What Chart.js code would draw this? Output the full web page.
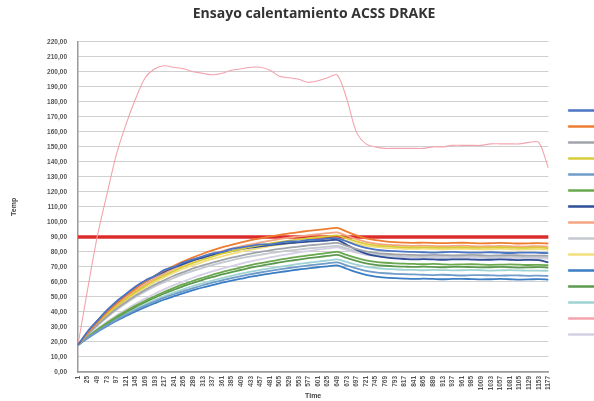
<!DOCTYPE html>
<html><head><meta charset="utf-8">
<script src="https://cdn.jsdelivr.net/npm/chart.js@4/dist/chart.umd.min.js"></script>
<style>
html,body{margin:0;padding:0;background:#fff;overflow:hidden;width:594px;height:401px;}
#wrap{position:relative;width:628px;height:401px;}
</style></head>
<body><div id="wrap"><canvas id="c" width="628" height="401"></canvas></div>
<script>
const title = "Ensayo calentamiento ACSS DRAKE";
const yTitle = "Temp";
const xTitle = "Time";
const timeLabels = [1,25,49,73,97,121,145,169,193,217,241,265,289,313,337,361,385,409,433,457,481,505,529,553,577,601,625,649,673,697,721,745,769,793,817,841,865,889,913,937,961,985,1009,1033,1057,1081,1105,1129,1153,1177];
const seriesNames = ["Serie1","Serie2","Serie3","Serie4","Serie5","Serie6","Serie7","Serie8","Serie9","Serie10","Serie11","Serie12","Serie13","Serie14","Serie15"];
const seriesColors = ["#4a74c4","#ed7d31","#a0a4aa","#d8cc3a","#6f9cc8","#6aa84f","#2f4f98","#f4a582","#c4c8cf","#f2df7a","#3a7dc4","#5c9a50","#9fd3d3","#f3a3ad","#d4d0e4"];
const limitValue = [90,90,90,90,90,90,90,90,90,90,90,90,90,90,90,90,90,90,90,90,90,90,90,90,90,90,90,90,90,90,90,90,90,90,90,90,90,90,90,90,90,90,90,90,90,90,90,90,90,90];

const s1 = [18,27,34,41,47,52,57,61,64,68,70,73,75,77,79,80,82,83,84,85,85,86,87,87,88,88,89,89,87,84.5,82.7,81.6,80.9,80.5,80.2,80,79.8,79.6,79.8,80,79.7,79.5,79.6,79.8,79.5,79.3,79.5,79.6,79.4,79.2];
const s2 = [18,25.9,33.1,39.7,45.6,50.9,55.7,60.1,64.1,67.6,70.8,73.8,76.4,78.8,81,83,84.7,86.3,87.8,89.1,90.3,91.4,92.3,93.2,94,94.7,95.4,96,93.5,91,89,87.8,87,86.5,86.2,86,86.2,86,85.8,86,86.1,85.9,85.7,85.8,86,85.8,85.6,85.7,85.9,85.6];
const s3 = [18,24.9,31.2,36.9,42.1,46.6,50.9,54.7,58.2,61.2,64.1,66.6,69,71,72.9,74.6,76.2,77.6,78.9,80,81.1,82,82.8,83.6,84.3,84.9,85.5,86,84,82,80.4,79.4,78.8,78.4,78.2,78,77.8,78,77.9,77.7,77.8,78,77.8,77.6,77.7,77.9,77.7,77.5,77.6,77.4];
const s4 = [18,25.4,32.2,38.3,43.8,48.7,53.3,57.3,61.1,64.4,67.4,70.2,72.7,74.9,76.9,78.8,80.4,81.9,83.3,84.5,85.6,86.7,87.5,88.4,89.1,89.8,90.4,91,89,87,85.4,84.4,83.8,83.4,83.2,83,83.2,83,82.8,83,83.1,82.9,82.8,83,83.1,82.9,82.7,82.8,83,82.6];
const s5 = [18,22.7,27,31,34.7,38.1,41.3,44.2,46.9,49.5,51.8,53.9,55.9,57.8,59.5,61.1,62.5,63.9,65.2,66.3,67.4,68.4,69.3,70.2,71,71.7,72.4,73,71,69,67.4,66.4,65.8,65.4,65.2,65,64.8,64.6,64.8,64.5,64.3,64.5,64.6,64.4,64.2,64.4,64.3,64.1,64.2,64];
const s6 = [18,23.2,28.1,32.6,36.8,40.6,44.2,47.5,50.5,53.5,56.1,58.5,60.8,62.8,64.7,66.6,68.2,69.7,71.2,72.5,73.7,74.8,75.9,76.8,77.7,78.5,79.3,80,78,76,74.4,73.4,72.8,72.4,72.2,72,71.8,72,71.7,71.5,71.7,71.8,71.6,71.4,71.5,71.7,71.5,71.3,71.4,71.2];
const s7 = [18,26.5,34,40.7,46.5,51.7,56.2,60.2,63.8,66.9,69.6,72.1,74.3,76.1,77.8,79.3,80.6,81.8,82.8,83.7,84.5,85.2,85.8,86.3,86.8,87.2,87.6,88,84.8,81.5,78.9,77.3,76.3,75.7,75.3,75,75.2,75,74.8,75,75.1,74.9,74.7,74.8,75,74.8,74.6,74.7,74.5,73];
const s8 = [18,25.6,32.6,38.8,44.5,49.6,54.3,58.4,62.3,65.7,68.8,71.6,74.2,76.5,78.5,80.5,82.2,83.7,85.1,86.3,87.5,88.6,89.5,90.4,91.1,91.8,92.5,93,90.8,88.5,86.7,85.6,84.9,84.5,84.2,84,84.2,84,83.8,84,84.1,83.9,83.7,83.8,84,83.8,83.6,83.7,83.9,83.5];
const s9 = [18,24.7,30.8,36.3,41.3,45.8,49.9,53.6,57,59.9,62.7,65.2,67.4,69.4,71.2,72.9,74.4,75.8,77,78.1,79.2,80.1,80.9,81.6,82.3,82.9,83.5,84,82.3,80.5,79.1,78.3,77.7,77.4,77.1,77,76.8,77,76.9,76.7,76.8,77,76.8,76.6,76.7,76.9,76.7,76.5,76.6,76.4];
const s10 = [18,25.2,31.8,37.7,43.1,47.9,52.3,56.3,59.9,63.1,66.1,68.8,71.2,73.3,75.3,77.1,78.7,80.2,81.5,82.7,83.8,84.8,85.7,86.5,87.2,87.9,88.5,89,87.3,85.5,84.1,83.3,82.7,82.4,82.1,82,82.2,82,81.8,82,82.1,81.9,81.7,81.8,82,81.8,81.6,81.7,81.9,81.5];
const s11 = [18,22.5,26.7,30.5,34.1,37.3,40.4,43.2,45.8,48.3,50.5,52.6,54.5,56.3,57.9,59.5,60.9,62.2,63.5,64.5,65.6,66.5,67.4,68.3,69,69.8,70.4,71,68.8,66.5,64.7,63.6,62.9,62.5,62.2,62,62.2,62,61.8,62,62.1,61.9,61.7,61.8,62,61.8,61.6,61.7,61.9,61.5];
const s12 = [18,23.1,27.8,32.1,36.2,39.9,43.4,46.5,49.5,52.3,54.8,57.2,59.4,61.4,63.2,65,66.6,68,69.5,70.7,71.9,73,74,74.9,75.8,76.6,77.3,78,76,74,72.4,71.4,70.8,70.4,70.2,70,70.2,70,69.8,70,70.1,69.9,69.7,69.8,70,69.8,69.6,69.7,69.9,69.5];
const s13 = [18,22.8,27.3,31.4,35.3,38.8,42.1,45.1,47.9,50.6,53,55.2,57.3,59.1,60.9,62.6,64.1,65.5,66.8,68,69.1,70.1,71.1,72,72.8,73.6,74.3,75,73.3,71.5,70.1,69.3,68.7,68.4,68.1,68,67.8,68,67.9,67.7,67.8,68,67.8,67.6,67.7,67.9,67.7,67.5,67.6,67.4];
const s14 = [18,55,90,118,145,165,182,196,202,204,203,202,200,199,198,199,201,202,203,203,201,197,196,195,193,194,196,198,182,160,152,150,149,149,149,149,149,150,150,151,151,151,151,152,152,152,152,153,153,136];
const s15 = [18,23.5,28.6,33.3,37.7,41.7,45.5,48.9,52.1,55.2,57.9,60.4,62.8,65,67,68.9,70.6,72.2,73.7,75.1,76.3,77.5,78.6,79.7,80.6,81.5,82.3,83,81.3,79.5,78.1,77.3,76.7,76.4,76.1,76,75.8,76,75.9,75.7,75.8,76,75.8,75.6,75.7,75.9,75.7,75.5,75.6,75.4];
const seriesValues = [s1,s2,s3,s4,s5,s6,s7,s8,s9,s10,s11,s12,s13,s14,s15];
const yTicks = {min:0, max:220, step:10};

const datasets = seriesNames.map((n,i)=>({
  label:n, data:seriesValues[i], borderColor:seriesColors[i], backgroundColor:seriesColors[i],
  borderWidth: i===13 ? 1.1 : 1.8, pointRadius:0, tension:0.3, fill:false
}));
datasets.push({label:"Límite", data:limitValue, borderColor:"#dc2b2b", backgroundColor:"#dc2b2b",
  borderWidth:3.5, pointRadius:0, tension:0, fill:false});

const tickFont = {family:"'Liberation Sans', Arial, sans-serif", size:6.5, weight:'bold'};
new Chart(document.getElementById('c'), {
  type:'line',
  data:{labels:timeLabels, datasets},
  options:{
    responsive:false, animation:false,
    layout:{padding:{left:0,right:0,top:0,bottom:0}},
    plugins:{
      title:{display:true, text:title, color:'#333', font:{family:"'Open Sans', sans-serif", size:14, weight:'bold'}, padding:{top:6,bottom:19}},
      legend:{position:'right', align:'center',
        title:{display:true, text:' ', font:{size:6}, padding:{top:0,bottom:36.8}},
        labels:{boxWidth:26, boxHeight:2, padding:10, color:'#888', font:{size:6},
          generateLabels:(chart)=>Chart.defaults.plugins.legend.labels.generateLabels(chart)
            .filter(l=>l.datasetIndex<15).map(l=>Object.assign(l,{lineWidth:0.5}))}},
      tooltip:{enabled:false}
    },
    scales:{
      x:{
        grid:{display:false, drawTicks:false},
        border:{display:true, color:'#9a9a9a', width:1.5},
        ticks:{autoSkip:false, maxRotation:90, minRotation:90, color:'#555', font:tickFont, padding:4},
        title:{display:true, text:xTitle, color:'#444', font:{family:"'Liberation Sans', Arial, sans-serif", size:7, weight:'bold'}, padding:{top:0,bottom:1}},
        afterFit:(s)=>{s.height=29;}
      },
      y:{
        min:yTicks.min, max:yTicks.max,
        grid:{color:'#d0d0d0', lineWidth:1, drawTicks:false},
        border:{display:true, color:'#9a9a9a', width:1.5},
        ticks:{stepSize:yTicks.step, color:'#555', font:tickFont, padding:11,
          callback:(v)=>v.toFixed(2).replace('.',',')},
        title:{display:true, text:yTitle, color:'#444', font:{family:"'Liberation Sans', Arial, sans-serif", size:7, weight:'bold'}, padding:{top:10,bottom:0}},
        afterFit:(s)=>{s.width=78;}
      },
      gap:{
        type:'linear', position:'right', display:true,
        grid:{display:false, drawTicks:false}, border:{display:false},
        ticks:{display:false},
        afterFit:(s)=>{s.width=10;}
      }
    }
  }
});
</script></body></html>
